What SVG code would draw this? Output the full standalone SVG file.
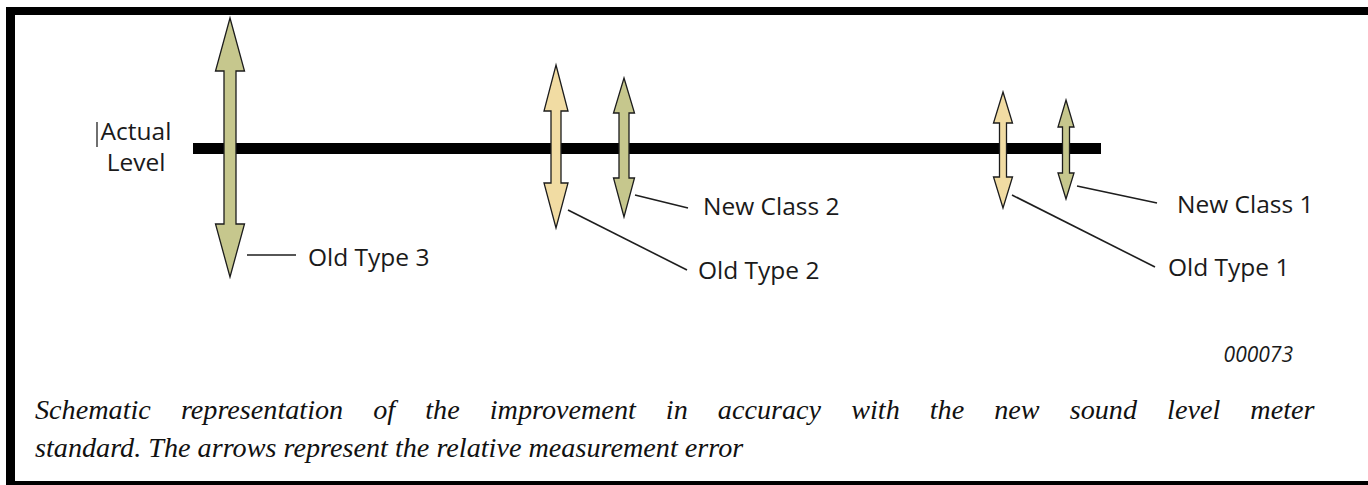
<svg xmlns="http://www.w3.org/2000/svg" width="1368" height="485" viewBox="0 0 1368 485">
  <style>
    .frame { fill: #000; }
    .level { fill: #000; }
    .arrow { stroke: #1c1c1c; stroke-width: 1.3; stroke-linejoin: miter; }
    .olive { fill: #c6c78d; }
    .beige { fill: #f1dca3; }
    .leader { stroke: #1e1e1e; stroke-width: 1.6; fill: none; }
    .label { font-family: "Open Sans", "Noto Sans", sans-serif; font-size: 24.5px; fill: #1a1a1a; }
    .code { font-family: "Open Sans", "Noto Sans", sans-serif; font-style: italic; font-size: 21px; fill: #1a1a1a; }
    .caption { font-family: "Liberation Serif", "DejaVu Serif", serif; font-style: italic; font-size: 28.2px; fill: #111; }
  </style>

  <rect width="1368" height="485" fill="#fff"/>

  <!-- frame -->
  <g id="frame">
    <rect class="frame" x="6" y="7" width="1362" height="8"/>
    <rect class="frame" x="6" y="7" width="9" height="478"/>
    <rect class="frame" x="6" y="481" width="1362" height="4"/>
  </g>

  <!-- actual level bar -->
  <g id="actual-level">
    <rect class="level" x="193" y="143" width="908" height="11"/>
    <line x1="97" y1="122" x2="97" y2="147" stroke="#222" stroke-width="1.3"/>
    <text class="label" x="136" y="140" text-anchor="middle">Actual</text>
    <text class="label" x="136" y="171" text-anchor="middle">Level</text>
  </g>

  <!-- leader lines -->
  <g id="connectors">
    <line class="leader" x1="247" y1="255" x2="296" y2="255"/>
    <line class="leader" x1="568" y1="210" x2="687" y2="270"/>
    <line class="leader" x1="635" y1="195" x2="688" y2="208"/>
    <line class="leader" x1="1012" y1="195" x2="1155" y2="267"/>
    <line class="leader" x1="1077" y1="186" x2="1157" y2="203"/>
  </g>

  <!-- error arrows -->
  <g id="old-type-3">
    <path class="arrow olive" d="M230,18 L244.5,71 L236,71 L236,224 L244.5,224 L230,277 L215.5,224 L224,224 L224,71 L215.5,71 Z"/>
    <text class="label" x="308" y="266">Old Type 3</text>
  </g>

  <g id="old-type-2">
    <path class="arrow beige" d="M556,65 L568,111 L561,111 L561,183 L568,183 L556,228 L544,183 L551,183 L551,111 L544,111 Z"/>
    <text class="label" x="698" y="279">Old Type 2</text>
  </g>

  <g id="new-class-2">
    <path class="arrow olive" d="M624,78 L634.5,113 L629,113 L629,178 L634.5,178 L624,217 L613.5,178 L619,178 L619,113 L613.5,113 Z"/>
    <text class="label" x="703" y="215">New Class 2</text>
  </g>

  <g id="old-type-1">
    <path class="arrow beige" d="M1003,92 L1012.5,123 L1006.5,123 L1006.5,177 L1012.5,177 L1003,208 L993.5,177 L999.5,177 L999.5,123 L993.5,123 Z"/>
    <text class="label" x="1168" y="276">Old Type 1</text>
  </g>

  <g id="new-class-1">
    <path class="arrow olive" d="M1066,100 L1074,127 L1069.5,127 L1069.5,173 L1074,173 L1066,199 L1058,173 L1062.5,173 L1062.5,127 L1058,127 Z"/>
    <text class="label" x="1177" y="213">New Class 1</text>
  </g>

  <!-- figure number and caption -->
  <g id="caption">
    <text class="code" x="1293" y="362" text-anchor="end">000073</text>
    <text class="caption" x="35" y="419" word-spacing="23">Schematic representation of the improvement in accuracy with the new sound level meter</text>
    <text class="caption" x="35" y="457">standard. The arrows represent the relative measurement error</text>
  </g>
</svg>
